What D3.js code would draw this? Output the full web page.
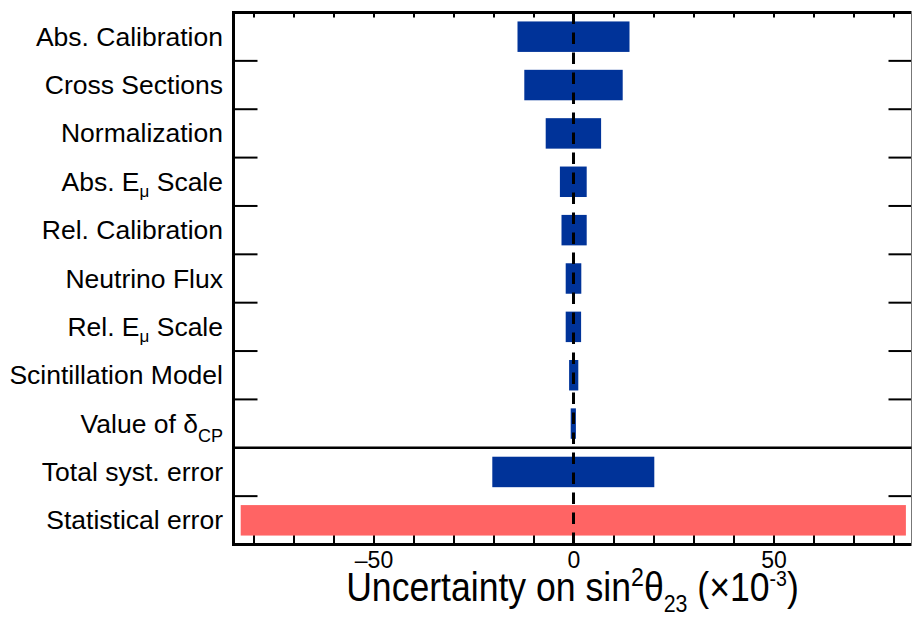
<!DOCTYPE html>
<html>
<head>
<meta charset="utf-8">
<script src="https://cdn.jsdelivr.net/npm/d3@7"></script>
<style>
  html, body { margin: 0; padding: 0; background: #fff; }
  svg { display: block; font-family: "Liberation Sans", Arial, Helvetica, sans-serif; }
</style>
</head>
<body>
<svg id="chart" width="912" height="617"></svg>
<script>
// Uncertainty breakdown on sin^2(theta_23), in units of 1e-3
const labelMain = ["Abs. Calibration", "Cross Sections", "Normalization", "Abs. E", "Rel. Calibration",
                   "Neutrino Flux", "Rel. E", "Scintillation Model", "Value of δ", "Total syst. error", "Statistical error"];
const labelSub  = ["", "", "", "μ", "", "", "μ", "", "CP", "", ""];
const labelTail = ["", "", "", " Scale", "", "", " Scale", "", "", "", ""];
const lowErr  = [-14.0, -12.3, -6.95, -3.4, -3.0, -1.95, -1.95, -1.1, -0.7, -20.3, -83.2];
const highErr = [ 14.0,  12.3,  6.9,   3.3,  3.3,  1.95,  1.9,  1.2,  0.6,  20.2,  83.1];
const isStat  = [false, false, false, false, false, false, false, false, false, false, true];
const xTickLabels = [-50, 0, 50];
const xMinorTicks = d3.range(-80, 81, 10);

const rows = labelMain.map((m, i) => ({
  key: i, main: m, sub: labelSub[i], tail: labelTail[i],
  lo: lowErr[i], hi: highErr[i], stat: isStat[i]
}));

const svg = d3.select("#chart");
const plotL = 233.5, plotR = 911.5, plotT = 12.5, plotB = 544.5;

const x = d3.scaleLinear().domain([-85, 84.5]).range([plotL, plotR]);
const y = d3.scaleBand()
  .domain(rows.map(d => d.key))
  .range([plotT, plotB])
  .paddingInner(0.37)
  .paddingOuter(0.185);
const step = y.step();

// bottom ticks (minor every 10, major with labels)
const gBottomMinor = svg.append("g")
  .attr("transform", `translate(0,${plotB})`)
  .call(d3.axisBottom(x).tickValues(xMinorTicks).tickSize(-10).tickFormat(""));
const gBottomMajor = svg.append("g")
  .attr("transform", `translate(0,${plotB})`)
  .call(d3.axisBottom(x).tickValues(xTickLabels).tickSize(-14).tickPadding(7)
        .tickFormat(d => d < 0 ? "–" + Math.abs(d) : String(d)));
// top ticks
const gTop = svg.append("g")
  .attr("transform", `translate(0,${plotT})`)
  .call(d3.axisTop(x).tickValues(xMinorTicks).tickSize(-5).tickFormat(""));

[gBottomMinor, gBottomMajor, gTop].forEach(g => {
  g.select(".domain").remove();
  g.selectAll(".tick line").attr("stroke", "#000").attr("stroke-width", 2);
});
[gBottomMinor, gTop].forEach(g => g.selectAll(".tick text").remove());
gBottomMajor.selectAll(".tick text")
  .attr("fill", "#000").attr("font-size", 23)
  .attr("font-family", "'Liberation Sans', Arial, sans-serif");

// left / right ticks at row boundaries
const bounds = d3.range(1, rows.length).filter(i => i !== 9).map(i => plotT + i * step);
svg.append("g").selectAll("line").data(bounds).join("line")
  .attr("x1", plotL).attr("x2", plotL + 24).attr("y1", d => d).attr("y2", d => d)
  .attr("stroke", "#000").attr("stroke-width", 2);
svg.append("g").selectAll("line").data(bounds).join("line")
  .attr("x1", plotR - 23).attr("x2", plotR).attr("y1", d => d).attr("y2", d => d)
  .attr("stroke", "#000").attr("stroke-width", 2);

// bars
svg.append("g").selectAll("rect").data(rows).join("rect")
  .attr("x", d => x(d.lo))
  .attr("width", d => x(d.hi) - x(d.lo))
  .attr("y", d => y(d.key))
  .attr("height", y.bandwidth())
  .attr("fill", d => d.stat ? "#ff6464" : "#003399");

// zero line
svg.append("line")
  .attr("x1", x(0)).attr("x2", x(0)).attr("y1", plotT).attr("y2", plotB)
  .attr("stroke", "#000").attr("stroke-width", 3)
  .attr("stroke-dasharray", "11.5 8.5");

// frame
svg.append("line").attr("x1", plotL - 1.5).attr("x2", plotR).attr("y1", plotT).attr("y2", plotT)
  .attr("stroke", "#000").attr("stroke-width", 3);
svg.append("line").attr("x1", plotL - 1.5).attr("x2", plotR).attr("y1", plotB).attr("y2", plotB)
  .attr("stroke", "#000").attr("stroke-width", 3);
svg.append("line").attr("x1", plotL).attr("x2", plotL).attr("y1", plotT).attr("y2", plotB + 1.5)
  .attr("stroke", "#000").attr("stroke-width", 3);
svg.append("line").attr("x1", plotR).attr("x2", plotR).attr("y1", plotT).attr("y2", plotB)
  .attr("stroke", "#777").attr("stroke-width", 1);
// separator between individual sources and totals
svg.append("line").attr("x1", plotL).attr("x2", plotR)
  .attr("y1", plotT + 9 * step).attr("y2", plotT + 9 * step)
  .attr("stroke", "#000").attr("stroke-width", 2.5);

// category labels
const labels = svg.append("g").selectAll("text").data(rows).join("text")
  .attr("x", 223)
  .attr("y", d => y(d.key) + y.bandwidth() / 2 + 9)
  .attr("text-anchor", "end")
  .attr("font-size", 26.5)
  .attr("fill", "#000");
labels.each(function(d) {
  const t = d3.select(this);
  t.append("tspan").text(d.main);
  if (d.sub) {
    const shift = d.sub === "CP" ? 9 : 6;
    t.append("tspan").attr("font-size", d.sub === "CP" ? 18 : 17).attr("dy", shift).text(d.sub);
    if (d.tail) t.append("tspan").attr("dy", -shift).text(d.tail);
  }
});

// axis title
const title = svg.append("text")
  .attr("transform", `translate(${(plotL + plotR) / 2},601) scale(0.89,1)`)
  .attr("text-anchor", "middle")
  .attr("font-size", 40)
  .attr("fill", "#000");
title.append("tspan").text("Uncertainty on sin");
title.append("tspan").attr("font-size", 26).attr("dy", -15).text("2");
title.append("tspan").attr("dy", 15).text("θ");
title.append("tspan").attr("font-size", 24).attr("dy", 11).text("23");
title.append("tspan").attr("dy", -11).text(" (×10");
title.append("tspan").attr("font-size", 22).attr("dy", -15).text("-3");
title.append("tspan").attr("dy", 15).text(")");
</script>
</body>
</html>
